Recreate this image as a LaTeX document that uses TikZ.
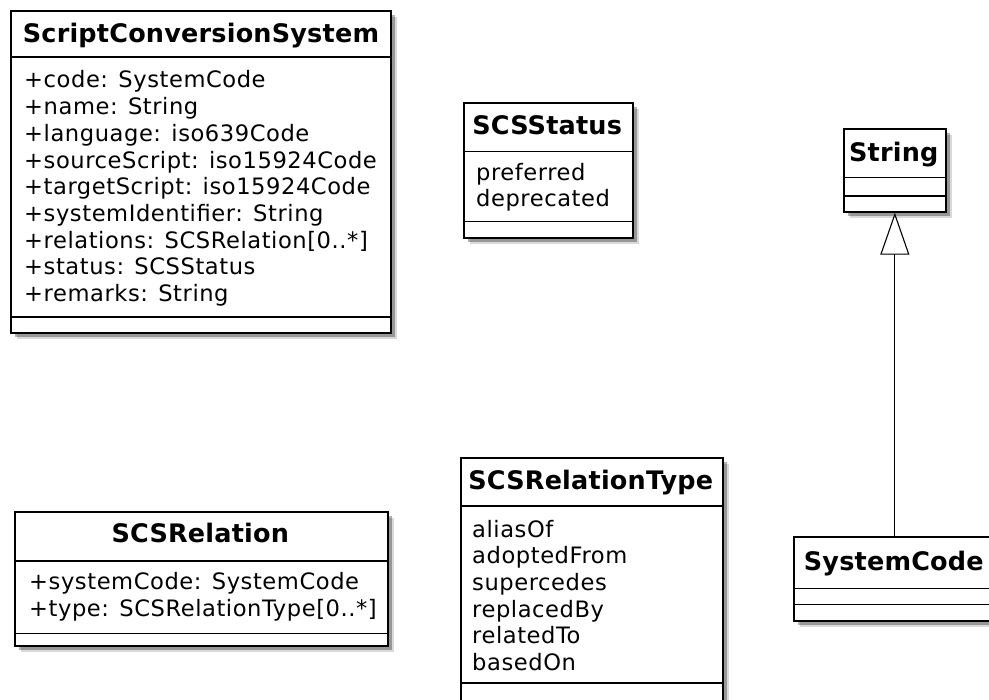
\documentclass[tikz,border=0pt]{standalone}
\usepackage{fontspec}
\setmainfont{DejaVu Sans}
\newfontfamily\attrfont{DejaVu Sans}[LetterSpace=2.5]
\newfontfamily\ttlfont{DejaVu Sans}[LetterSpace=0.8]
\usetikzlibrary{arrows.meta,shadows}
\tikzset{
  cls/.style={draw, line width=2pt, fill=white, inner sep=0pt, anchor=north west,
    drop shadow={shadow xshift=6pt, shadow yshift=-6pt, opacity=0.15, fill=black},
    drop shadow={shadow xshift=4pt, shadow yshift=-4pt, opacity=0.3, fill=black}},
  sep/.style={line width=1.4pt},
  ttl/.style={font=\ttlfont\bfseries\fontsize{25.5}{30}\selectfont, inner sep=0pt, anchor=base},
  attr/.style={font=\attrfont\fontsize{22.6}{27}\selectfont, inner sep=0pt, anchor=base west},
  gen/.style={line width=1.1pt, -{Triangle[open, width=29pt, length=42pt, line width=1.1pt]}},
}
\begin{document}
\begin{tikzpicture}[x=1pt, y=-1pt]
\useasboundingbox (0,0) rectangle (989,700);
\clip (0,0) rectangle (989,700);

% ScriptConversionSystem
\node[cls, minimum width=380pt, minimum height=322pt] (scs) at (10,10) {};
\draw[sep] ([yshift=-47pt]scs.north west) -- ([yshift=-47pt]scs.north east);
\draw[sep] ([yshift=17pt]scs.south west) -- ([yshift=17pt]scs.south east);
\node[ttl] (scsT) at (201,43) {ScriptConversionSystem};
\node[attr] (a1) at (24,88) {+code: SystemCode};
\node[attr] (a2) at (24,114.7) {+name: String};
\node[attr] (a3) at (24,141.4) {+language: iso639Code};
\node[attr] (a4) at (24,168.1) {+sourceScript: iso15924Code};
\node[attr] (a5) at (24,194.8) {+targetScript: iso15924Code};
\node[attr] (a6) at (24,221.5) {+systemIdentifier: String};
\node[attr] (a7) at (24,248.2) {+relations: SCSRelation[0..*]};
\node[attr] (a8) at (24,274.9) {+status: SCSStatus};
\node[attr] (a9) at (24,301.6) {+remarks: String};

% SCSStatus
\node[cls, minimum width=169pt, minimum height=135pt] (st) at (462.7,101.7) {};
\draw[sep] ([yshift=-50pt]st.north west) -- ([yshift=-50pt]st.north east);
\draw[sep] ([yshift=17pt]st.south west) -- ([yshift=17pt]st.south east);
\node[ttl] (stT) at (547.2,135) {SCSStatus};
\node[attr] (s1) at (476,180.7) {preferred};
\node[attr] (s2) at (476,206.7) {deprecated};

% String
\node[cls, minimum width=102.3pt, minimum height=82.4pt] (str) at (842.7,128.3) {};
\draw[sep] ([yshift=-49pt]str.north west) -- ([yshift=-49pt]str.north east);
\draw[sep] ([yshift=-67.7pt]str.north west) -- ([yshift=-67.7pt]str.north east);
\node[ttl] (strT) at (893.8,161.7) {String};

% SCSRelation
\node[cls, minimum width=372.7pt, minimum height=134pt] (rel) at (14,511) {};
\draw[sep] ([yshift=-50pt]rel.north west) -- ([yshift=-50pt]rel.north east);
\draw[sep] ([yshift=13.3pt]rel.south west) -- ([yshift=13.3pt]rel.south east);
\node[ttl] (relT) at (200.3,543) {SCSRelation};
\node[attr] (r1) at (29,590) {+systemCode: SystemCode};
\node[attr] (r2) at (29,616.7) {+type: SCSRelationType[0..*]};

% SCSRelationType
\node[cls, minimum width=261.7pt, minimum height=244pt] (rt) at (460,457.3) {};
\draw[sep] ([yshift=-48.7pt]rt.north west) -- ([yshift=-48.7pt]rt.north east);
\draw[sep] ([yshift=-225.7pt]rt.north west) -- ([yshift=-225.7pt]rt.north east);
\node[ttl] (rtT) at (590.8,490) {SCSRelationType};
\node[attr] (t1) at (472,537.3) {aliasOf};
\node[attr] (t2) at (472,563.9) {adoptedFrom};
\node[attr] (t3) at (472,590.5) {supercedes};
\node[attr] (t4) at (472,617.1) {replacedBy};
\node[attr] (t5) at (472,643.7) {relatedTo};
\node[attr] (t6) at (472,670.3) {basedOn};

% SystemCode
\node[cls, minimum width=201pt, minimum height=84.3pt] (sc) at (793.3,535.7) {};
\draw[sep] ([yshift=-52.6pt]sc.north west) -- ([yshift=-52.6pt]sc.north east);
\draw[sep] ([yshift=-68.6pt]sc.north west) -- ([yshift=-68.6pt]sc.north east);
\node[ttl] (scT) at (893.8,570.7) {SystemCode};

% generalization
\draw[gen] (sc.north -| str.south) -- (str.south);
\end{tikzpicture}
\end{document}
